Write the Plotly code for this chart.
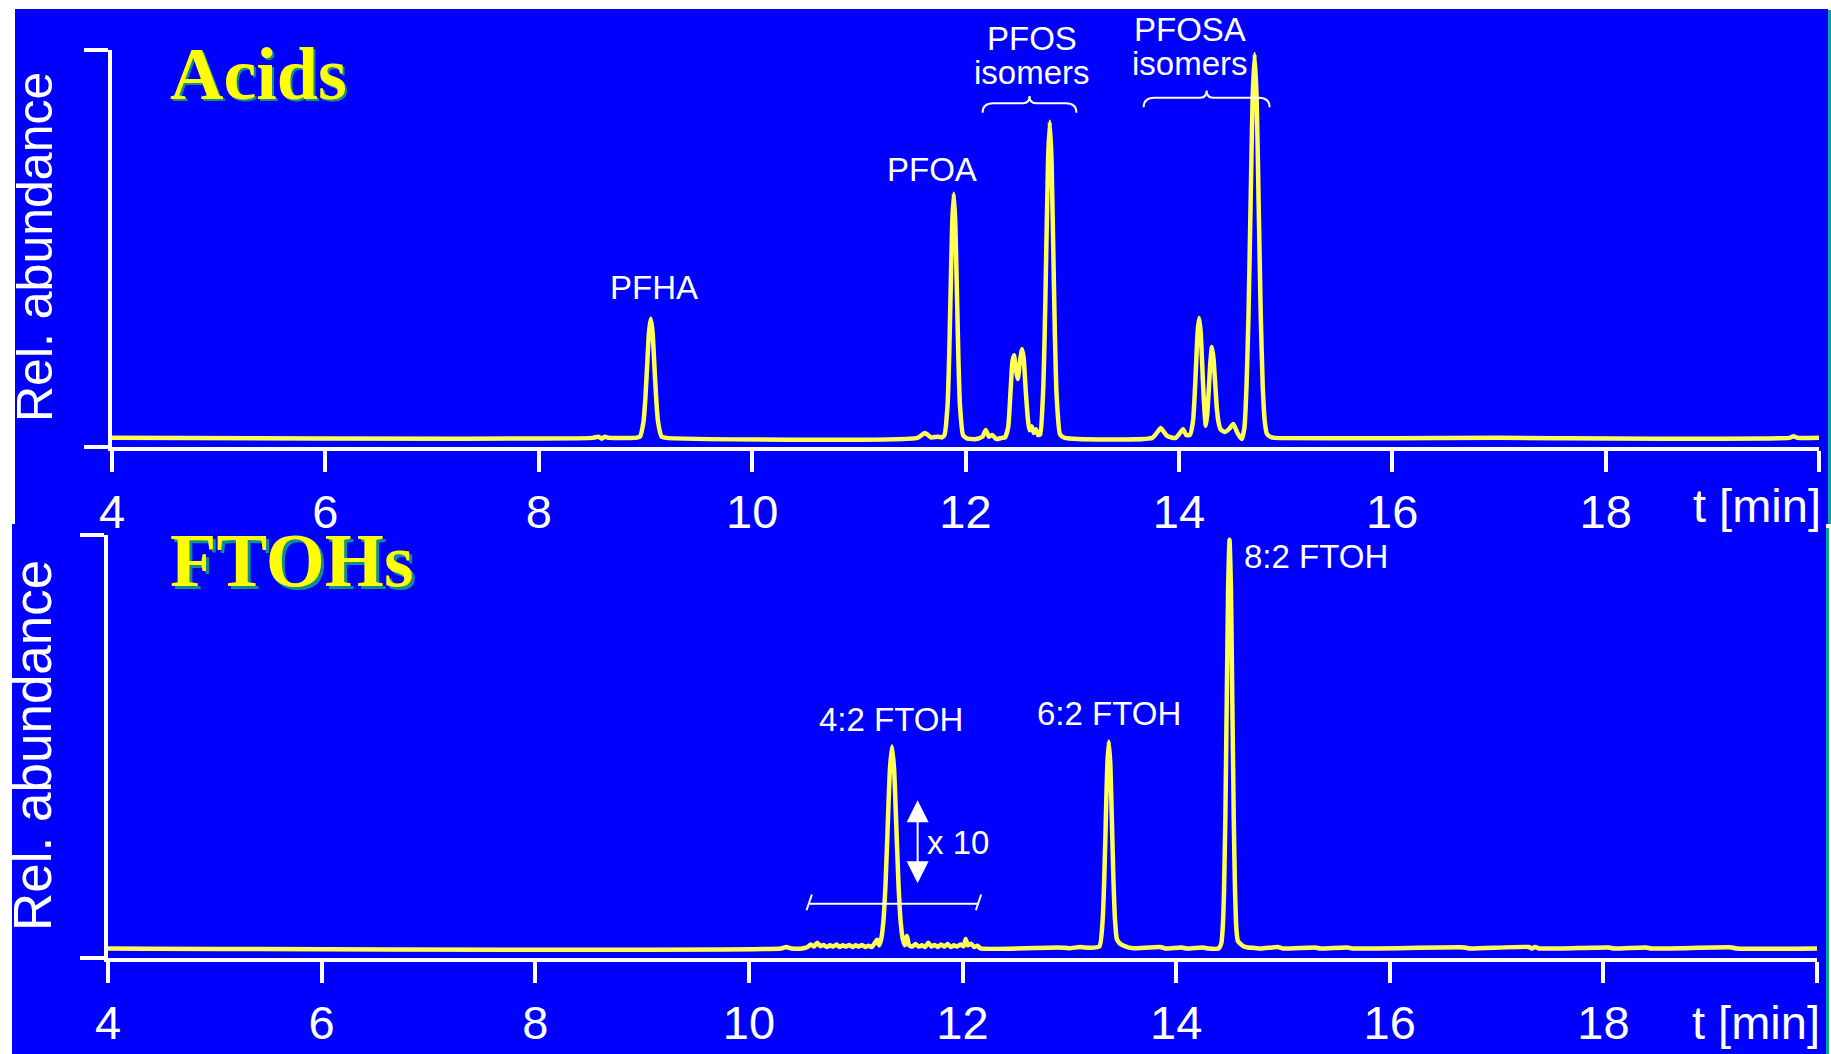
import plotly.graph_objects as go

# ---------------- data ----------------
# Acids chromatogram: retention time [min] and relative abundance
acid_t = [4.0, 8.5, 8.56, 8.59, 8.62, 8.66, 8.9,
          8.948, 8.982, 8.999, 9.016, 9.033, 9.05, 9.067, 9.084, 9.101, 9.118, 9.152, 9.2,
          11.55, 11.62, 11.68, 11.74, 11.78,
          11.803, 11.832, 11.8465, 11.861, 11.8755, 11.89, 11.9045, 11.919, 11.9335, 11.948, 11.977,
          12.02, 12.1, 12.16, 12.19, 12.22, 12.25, 12.29, 12.34,
          12.37, 12.40, 12.42, 12.44, 12.455, 12.47, 12.49, 12.51, 12.53, 12.545, 12.565, 12.585,
          12.60, 12.62, 12.64, 12.66, 12.68, 12.70,
          12.726, 12.742, 12.758, 12.774, 12.79, 12.806, 12.822, 12.838, 12.854, 12.886, 12.93,
          13.75, 13.80, 13.83, 13.86, 13.89, 13.93, 13.97, 14.01, 14.04, 14.07, 14.103,
          14.132, 14.1465, 14.161, 14.1755, 14.19, 14.2045, 14.219, 14.2335, 14.252,
          14.265, 14.28, 14.295, 14.31, 14.325, 14.34, 14.355, 14.37, 14.39, 14.43, 14.47, 14.51,
          14.55, 14.59, 14.615, 14.634, 14.653, 14.672, 14.691, 14.71, 14.729, 14.748, 14.767,
          14.786, 14.805, 14.824, 14.86, 14.9, 17.0, 19.72, 19.76, 19.8, 20.0]
acid_y = [2.3, 2.3, 2.6, 2.1, 2.6, 2.3, 2.3,
          2.6, 6.4, 12.1, 20.5, 28.8, 32.3, 28.8, 20.5, 12.1, 6.4, 2.6, 2.3,
          2.3, 3.5, 2.4, 2.6, 2.4,
          3.0, 10.6, 22.3, 39.6, 56.4, 63.8, 56.4, 39.6, 22.3, 10.6, 3.0,
          2.1, 2.0, 2.6, 4.3, 2.6, 3.0, 2.0, 2.3,
          2.4, 5.0, 13.0, 21.5, 23.1, 20.0, 17.1, 21.5, 24.7, 22.5, 14.0, 7.0,
          4.2, 5.2, 3.5, 4.5, 3.0, 3.2,
          13.0, 28.2, 50.6, 72.5, 81.9, 72.5, 50.6, 28.2, 13.0, 3.2, 2.3,
          2.3, 3.8, 4.8, 3.8, 2.8, 2.4, 2.3, 3.5, 4.5, 3.0, 3.0,
          6.4, 12.1, 20.6, 28.9, 32.5, 28.9, 20.6, 12.1, 5.3,
          8.0, 14.3, 21.3, 25.2, 22.2, 16.2, 10.0, 6.5, 4.5, 3.8, 4.5, 5.8,
          3.5, 2.0, 5.0, 15.4, 33.7, 61.0, 87.6, 99.0, 87.6, 61.0, 33.7,
          15.4, 6.5, 3.4, 2.5, 2.3, 2.3, 2.3, 2.7, 2.3, 2.3]

# FTOHs chromatogram
ftoh_t = [4.0, 10.3, 10.35, 10.4, 10.5, 10.55, 10.58, 10.61, 10.64, 10.67, 10.70, 10.73, 10.76,
          10.79, 10.82, 10.85, 10.88, 10.91, 10.94, 10.97, 11.00, 11.03, 11.06, 11.09, 11.12,
          11.15, 11.18, 11.20, 11.22,
          11.24, 11.26, 11.28, 11.30, 11.32, 11.34, 11.36, 11.38, 11.40, 11.42, 11.44, 11.46,
          11.48, 11.50, 11.53, 11.56, 11.59, 11.62, 11.65, 11.68, 11.71, 11.74, 11.77, 11.80,
          11.83, 11.86, 11.89, 11.92, 11.95, 11.98, 12.01, 12.03, 12.05, 12.08, 12.11, 12.14,
          12.17, 12.9, 13.0, 13.1, 13.2, 13.283,
          13.312, 13.3265, 13.341, 13.3555, 13.37, 13.3845, 13.399, 13.4135, 13.428, 13.445,
          13.47, 13.5, 13.55, 13.6, 13.85, 13.9, 14.05, 14.1, 14.25, 14.3, 14.4, 14.422,
          14.435, 14.448, 14.461, 14.474, 14.487, 14.50, 14.513, 14.526, 14.539, 14.552, 14.565,
          14.578, 14.60, 14.63, 14.67, 14.72, 14.8, 14.95, 15.0, 15.3, 15.35, 15.6, 15.65,
          16.7, 16.75, 17.3, 17.33, 17.36, 17.4, 18.05, 18.1, 18.4, 18.45, 19.2, 19.25, 20.0]
ftoh_y = [2.25, 2.25, 2.6, 2.25, 2.25, 2.6, 3.2, 2.7, 3.6, 2.8, 3.1, 2.6, 3.0,
          2.7, 3.2, 2.6, 3.0, 2.7, 3.1, 2.6, 3.0, 2.7, 3.1, 2.6, 2.9,
          2.6, 3.6, 4.3, 3.0,
          4.6, 8.9, 17.9, 31.3, 44.4, 50.0, 44.4, 31.3, 17.9, 8.9, 4.6, 3.0,
          5.2, 3.0, 2.7, 3.3, 2.7, 3.0, 2.6, 3.6, 2.7, 3.1, 2.6, 3.2,
          2.7, 3.3, 2.6, 3.0, 2.7, 3.2, 2.8, 4.5, 3.0, 3.4, 2.6, 2.9,
          2.25, 2.5, 2.3, 2.6, 2.4, 2.8,
          8.9, 18.2, 32.0, 45.5, 51.2, 45.5, 32.0, 18.2, 8.9, 4.5,
          3.5, 3.0, 2.5, 2.3, 2.6, 2.25, 2.5, 2.25, 2.5, 2.25, 2.3, 3.4,
          6.55, 15.3, 33.7, 60.9, 87.5, 98.9, 87.5, 60.9, 33.7, 15.3, 6.55,
          4.0, 3.4, 2.8, 2.5, 2.4, 2.25, 2.6, 2.25, 2.5, 2.25, 2.5, 2.25,
          2.5, 2.25, 2.6, 2.25, 2.6, 2.25, 2.5, 2.25, 2.5, 2.25, 2.5, 2.25, 2.25]

x_tickvals = [4, 6, 8, 10, 12, 14, 16, 18, 20]
x_ticktext = ["4", "6", "8", "10", "12", "14", "16", "18", ""]

acid_labels = ["PFHA", "PFOA"]
acid_label_x = [9.08, 11.69]
acid_label_y = [40.3, 69.8]
group_names = ["PFOS", "PFOSA"]
group_x = [12.62, 14.10]
group_span = [(12.16, 13.04), (13.67, 14.85)]
group_brace_y = [84.2, 85.6]

ftoh_labels = ["4:2 FTOH", "6:2 FTOH", "8:2 FTOH"]
ftoh_label_x = [11.33, 13.375, 15.305]
ftoh_label_y = [56.5, 57.7, 95.0]

# ---------------- styling ----------------
W, H = 1831, 1054
BLUE = "#0000FF"
TRACE = "#FFFF55"
SANS = "Liberation Sans, Arial, sans-serif"
SERIF = "Liberation Serif, Times New Roman, serif"


def fx(p):
    return p / W


def fy(p):
    return 1 - p / H


fig = go.Figure()
fig.add_trace(go.Scatter(x=acid_t, y=acid_y, xaxis="x", yaxis="y", mode="lines",
                         line=dict(color=TRACE, width=4.5, shape="spline", smoothing=0.5),
                         hoverinfo="skip", showlegend=False))
fig.add_trace(go.Scatter(x=ftoh_t, y=ftoh_y, xaxis="x2", yaxis="y2", mode="lines",
                         line=dict(color=TRACE, width=4.5, shape="spline", smoothing=0.5),
                         hoverinfo="skip", showlegend=False))

xax = dict(range=[4, 20], tickvals=x_tickvals, ticktext=x_ticktext, ticks="outside",
           ticklen=21, tickwidth=4, tickcolor="white", showline=True, linecolor="white",
           linewidth=4, showgrid=False, zeroline=False, automargin=False,
           tickfont=dict(family=SANS, size=47, color="white"), fixedrange=True)
yax = dict(range=[0, 100], tickvals=[0, 100], ticktext=["", ""], ticks="outside",
           ticklen=24, tickwidth=4, tickcolor="white", showline=True, linecolor="white",
           linewidth=4, showgrid=False, zeroline=False, automargin=False, fixedrange=True)

fig.update_layout(
    width=W, height=H, margin=dict(l=0, r=0, t=0, b=0, pad=0, autoexpand=False),
    paper_bgcolor="white", plot_bgcolor="rgba(0,0,0,0)", showlegend=False,
    xaxis=dict(xax, domain=[fx(112), fx(1819)], anchor="y"),
    yaxis=dict(yax, domain=[fy(447), fy(50)], anchor="x"),
    xaxis2=dict(xax, domain=[fx(108), fx(1817)], anchor="y2"),
    yaxis2=dict(yax, domain=[fy(958), fy(535)], anchor="x2"),
)

# background panels
shapes = [
    dict(type="rect", xref="paper", yref="paper", x0=fx(15), x1=fx(1828), y0=fy(524), y1=fy(9),
         fillcolor=BLUE, line_width=0, layer="below"),
    dict(type="rect", xref="paper", yref="paper", x0=fx(1828), x1=fx(1831), y0=fy(524), y1=fy(10),
         fillcolor="#10A0A0", line_width=0, layer="below"),
    dict(type="rect", xref="paper", yref="paper", x0=fx(12), x1=fx(1826), y0=0, y1=fy(524),
         fillcolor=BLUE, line_width=0, layer="below"),
    dict(type="rect", xref="paper", yref="paper", x0=fx(1826), x1=fx(1829), y0=0, y1=fy(528),
         fillcolor="#10A0A0", line_width=0, layer="below"),
]


def brace(x0, x1, ye, dy_flat, dy_tip, r):
    xc = (x0 + x1) / 2
    yf = ye + dy_flat
    yt = ye + dy_tip
    return (f"M {x0},{ye} Q {x0},{yf} {x0 + r},{yf} L {xc - r * 0.6},{yf} "
            f"Q {xc},{yf} {xc},{yt} Q {xc},{yf} {xc + r * 0.6},{yf} "
            f"L {x1 - r},{yf} Q {x1},{yf} {x1},{ye}")


for (a, b), ye in zip(group_span, group_brace_y):
    shapes.append(dict(type="path", xref="x", yref="y", path=brace(a, b, ye, 2.4, 4.2, 0.1),
                       line=dict(color="white", width=2)))

# x10 bracket in the FTOH panel
shapes += [
    dict(type="line", xref="x2", yref="y2", x0=10.565, x1=12.155, y0=12.8, y1=12.8,
         line=dict(color="white", width=2)),
    dict(type="line", xref="x2", yref="y2", x0=10.54, x1=10.59, y0=11.3, y1=15.0,
         line=dict(color="white", width=2)),
    dict(type="line", xref="x2", yref="y2", x0=12.125, x1=12.175, y0=11.3, y1=15.0,
         line=dict(color="white", width=2)),
]
fig.update_layout(shapes=shapes)

ann = []
C = dict(xanchor="center", yanchor="middle", showarrow=False)
lab_font = dict(family=SANS, size=33, color="white")
for t, x, y in zip(acid_labels, acid_label_x, acid_label_y):
    ann.append(dict(C, x=x, y=y, xref="x", yref="y", text=t, font=lab_font))
# group labels sit above the axis top, so their height is given in page position
for t, x, yn, yi in zip(group_names, group_x, [39, 30], [73, 64]):
    ann.append(dict(C, x=x, y=fy(yn), xref="x", yref="paper", text=t, font=lab_font))
    ann.append(dict(C, x=x, y=fy(yi), xref="x", yref="paper", text="isomers", font=lab_font))
for t, x, y in zip(ftoh_labels, ftoh_label_x, ftoh_label_y):
    ann.append(dict(C, x=x, y=y, xref="x2", yref="y2", text=t, font=lab_font))
ann.append(dict(C, x=11.96, y=27.4, xref="x2", yref="y2", text="x 10", font=lab_font))
ann.append(dict(x=11.58, y=37.3, ax=11.58, ay=17.3, xref="x2", yref="y2", axref="x2", ayref="y2",
                text="", showarrow=True, arrowhead=2, arrowside="end+start", arrowsize=2.2,
                arrowwidth=2, arrowcolor="white"))

# panel titles with shadow
for txt, cx, cy, size in [("Acids", 258, 74, 74), ("FTOHs", 292, 560, 76)]:
    ann.append(dict(C, x=fx(cx), y=fy(cy), xref="paper", yref="paper", text=f"<b>{txt}</b>",
                    xshift=2.5, yshift=-2.5,
                    font=dict(family=SERIF, size=size, color="#0E8F8F")))
    ann.append(dict(C, x=fx(cx), y=fy(cy), xref="paper", yref="paper", text=f"<b>{txt}</b>",
                    font=dict(family=SERIF, size=size, color="#FFFF00")))

# axis titles
for cx, cy, size in [(35, 247, 50), (32, 746, 53)]:
    ann.append(dict(C, x=fx(cx), y=fy(cy), xref="paper", yref="paper", text="Rel. abundance",
                    textangle=-90, font=dict(family=SANS, size=size, color="white")))
for cx, cy in [(1757, 505), (1756, 1022)]:
    ann.append(dict(C, x=fx(cx), y=fy(cy), xref="paper", yref="paper", text="t [min]",
                    font=dict(family=SANS, size=47, color="white")))

fig.update_layout(annotations=ann)
fig.write_html("out.html", config={"displayModeBar": False},
               post_script="document.body.style.margin='0px';")
